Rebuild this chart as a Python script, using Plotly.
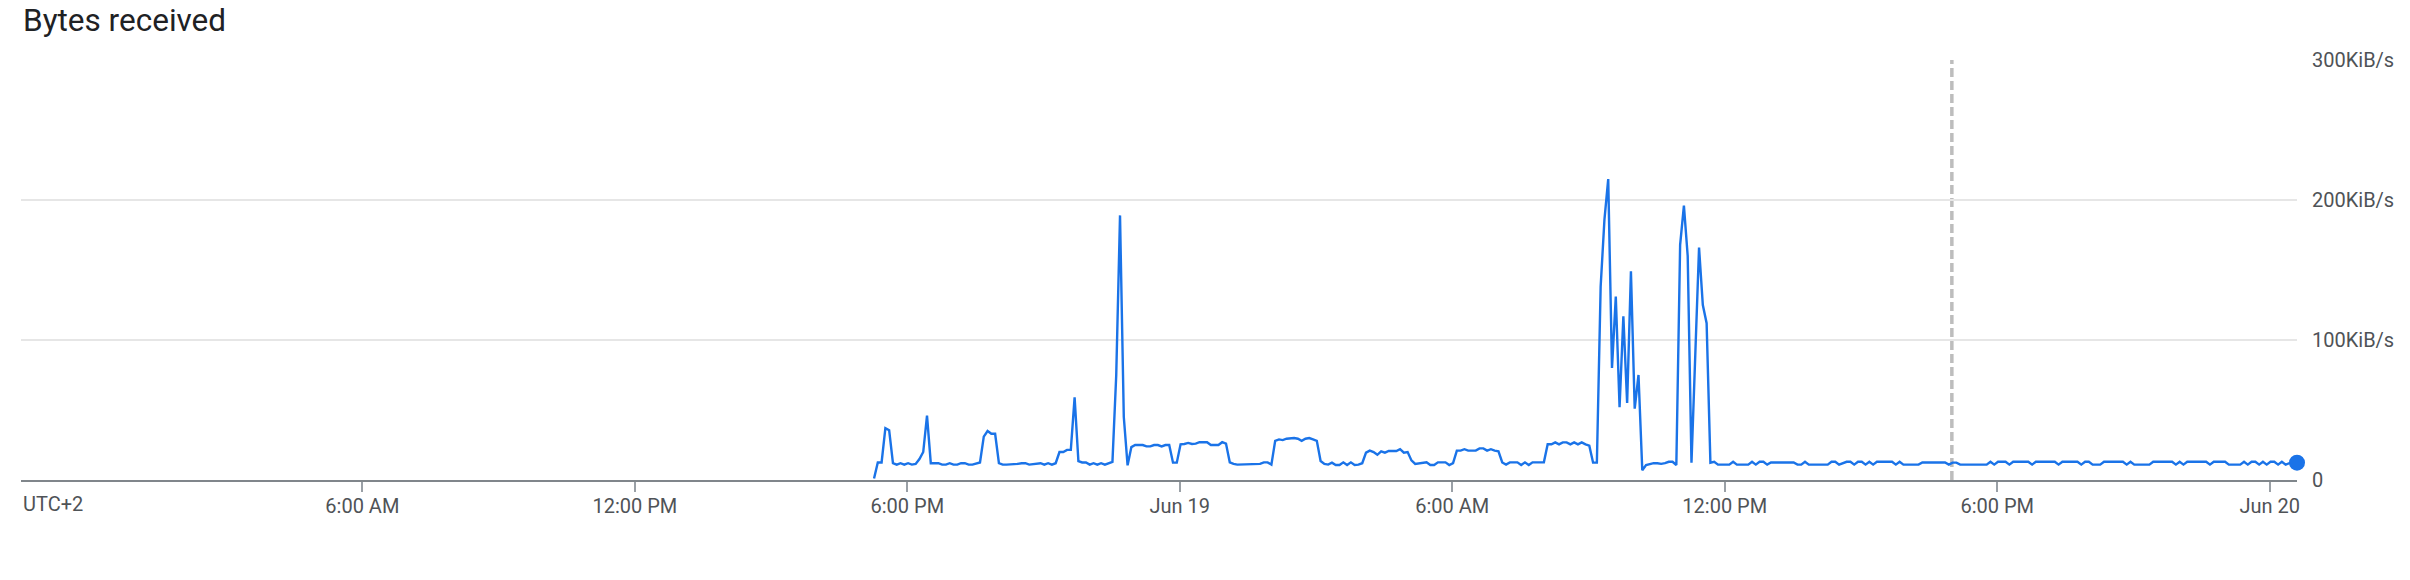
import pandas as pd
import plotly.graph_objects as go

# ---------------- data ----------------
title_text = "Bytes received"
series_start = "2023-06-18 17:16"      # first sample (5-minute samples)
sample_step = "5min"

# KiB/s, one row per hour (rows start at hh:16)
received_kib = [
    # Jun 18
    1, 12.5, 12.5, 37, 35.5, 12, 11, 12, 11, 12, 11, 11.5,          # 17:16
    15, 20, 46, 12, 12, 12, 11, 11, 12, 11, 11, 12,                 # 18:16
    12, 11, 11, 12, 12.5, 31, 35, 33, 33, 12, 11, 11,               # 19:16
    11, 11, 11.5, 12, 12, 11, 11.5, 12, 12, 11, 12, 11,             # 20:16
    12, 20, 20, 21.5, 21.5, 59, 13.5, 12.5, 12.5, 11, 12, 11,       # 21:16
    12, 11, 12, 13, 75, 189, 45, 10.5, 23.5, 25, 25, 25,            # 22:16
    24, 24, 25, 25, 24, 25, 25, 12.4, 12.4, 25.5, 25.7, 26.5,       # 23:16
    # Jun 19
    25.7, 26, 27, 27, 27, 25, 25, 25, 27, 26, 12.6, 11.5,           # 00:16
    11, 11, 11, 11, 11, 11, 11.5, 12.6, 12.6, 11, 28, 29,           # 01:16
    28.5, 29.5, 30, 30, 29.5, 28, 29.5, 30, 29, 28, 13.6, 11.5,     # 02:16
    11, 12.4, 10.7, 10.7, 12.6, 10.7, 12.6, 10.7, 11, 12, 19.5, 21, # 03:16
    20, 18, 20.5, 19.5, 20.7, 20.7, 20.7, 22, 19.5, 20, 14, 11.5,   # 04:16
    12, 12.6, 12.6, 10.7, 10.7, 12.6, 12.6, 12.6, 10.7, 12, 21, 21, # 05:16
    22, 21, 21, 21, 22.6, 22.6, 21, 22, 21, 20.5, 12.5, 11,         # 06:16
    12.6, 12.6, 12.6, 10.7, 12.6, 10.7, 12.6, 12.6, 12.6, 12.6, 25.5, 25.5,  # 07:16
    26.9, 25.5, 26.9, 26.9, 25.5, 26.9, 25.5, 26.9, 25.5, 24.5, 12.4, 12.4,  # 08:16
    138, 186, 215, 80, 131, 52, 117, 55, 149, 51, 75, 7,            # 09:16
    10.7, 11.5, 12, 12, 11.5, 12, 13, 13, 10.7, 168, 196, 160,      # 10:16
    12.4, 89, 166, 125, 112, 12.4, 13, 11, 11, 11, 11, 13,          # 11:16
    11, 11, 11, 11, 13, 11, 13, 13, 11, 12.5, 12.5, 12.5,           # 12:16
    12.5, 12.5, 12.5, 12.5, 11, 11, 13, 11, 11, 11, 11, 11,         # 13:16
    11, 13, 13, 11, 12, 13, 13, 11, 13, 13, 11, 13,                 # 14:16
    11, 13, 13, 13, 13, 13, 11, 13, 11, 11, 11, 11,                 # 15:16
    11, 12.5, 12.5, 12.5, 12.5, 12.5, 12.5, 12.5, 11, 12.4, 12.4, 11,  # 16:16
    11, 11, 11, 11, 11, 11, 11, 13, 11, 13, 13, 13,                 # 17:16
    11, 13, 13, 13, 13, 13, 11, 13, 13, 13, 13, 13,                 # 18:16
    13, 11, 13, 13, 13, 13, 13, 11, 13, 13, 11, 11,                 # 19:16
    11, 13, 13, 13, 13, 13, 13, 11, 13, 11, 11, 11,                 # 20:16
    11, 11, 13, 13, 13, 13, 13, 13, 11, 13, 11, 13,                 # 21:16
    13, 13, 13, 13, 13, 11, 13, 13, 13, 13, 11, 11,                 # 22:16
    11, 11, 13, 11, 13, 13, 11, 13, 11, 13, 13, 11,                 # 23:16
    # Jun 20
    13, 11, 12, 12, 12.4,                                           # 00:16
]

x_range = ["2023-06-17 22:29", "2023-06-20 00:36"]
x_tick_times = ["2023-06-18 06:00", "2023-06-18 12:00", "2023-06-18 18:00",
                "2023-06-19 00:00", "2023-06-19 06:00", "2023-06-19 12:00",
                "2023-06-19 18:00", "2023-06-20 00:00"]
x_tick_labels = ["6:00 AM", "12:00 PM", "6:00 PM", "Jun 19",
                 "6:00 AM", "12:00 PM", "6:00 PM", "Jun 20"]
y_tick_values = [0, 100, 200, 300]
y_tick_labels = ["0", "100KiB/s", "200KiB/s", "300KiB/s"]
timezone_label = "UTC+2"
marker_time = "2023-06-19 17:00"

# ---------------- figure ----------------
times = pd.date_range(start=series_start, periods=len(received_kib), freq=sample_step)

BLUE = "#1a73e8"
TEXT = "#4f5357"
FONT = "Roboto"

fig = go.Figure()
fig.add_trace(go.Scatter(
    x=times, y=received_kib, mode="lines",
    line=dict(color=BLUE, width=2.4),
    hoverinfo="skip", showlegend=False,
))
fig.add_trace(go.Scatter(
    x=[times[-1]], y=[received_kib[-1]], mode="markers",
    marker=dict(color=BLUE, size=16),
    cliponaxis=False, hoverinfo="skip", showlegend=False,
))

fig.add_shape(type="line", xref="x", yref="paper",
              x0=marker_time, x1=marker_time, y0=0, y1=1,
              line=dict(color="#bdbdbd", width=3.5, dash="9px,4px"), layer="below")

fig.add_annotation(text=title_text, xref="paper", yref="paper",
                   x=0, y=1 + 60 / 420, xanchor="left", yanchor="top",
                   showarrow=False, font=dict(family=FONT, size=31.5, color="#202124"))
fig.add_annotation(text=timezone_label, xref="paper", yref="paper",
                   x=0, y=0, xanchor="left", yanchor="middle", yshift=-24,
                   showarrow=False, font=dict(family=FONT, size=20, color=TEXT))

fig.update_layout(
    width=2410, height=580,
    margin=dict(l=21, r=113, t=60, b=100),
    paper_bgcolor="white", plot_bgcolor="white",
    font=dict(family=FONT, size=20, color=TEXT),
    showlegend=False,
    xaxis=dict(
        type="date", range=x_range,
        tickmode="array", tickvals=x_tick_times, ticktext=x_tick_labels,
        showgrid=False, zeroline=False,
        showline=True, linecolor="#80868b", linewidth=2,
        ticks="outside", ticklen=10, tickwidth=1.5, tickcolor="#9aa0a6",
        ticklabelstandoff=-3,
        tickfont=dict(family=FONT, size=20, color=TEXT),
    ),
    yaxis=dict(
        side="right", range=[0, 300],
        tickmode="array", tickvals=y_tick_values, ticktext=y_tick_labels,
        showgrid=True, gridcolor="#e6e6e6", gridwidth=1.5,
        zeroline=False, showline=False, ticks="",
        ticklabelstandoff=14,
        tickfont=dict(family=FONT, size=20, color=TEXT),
    ),
)

fig.write_html("out.html", config={"displayModeBar": False},
               post_script="document.body.style.margin='0';")
